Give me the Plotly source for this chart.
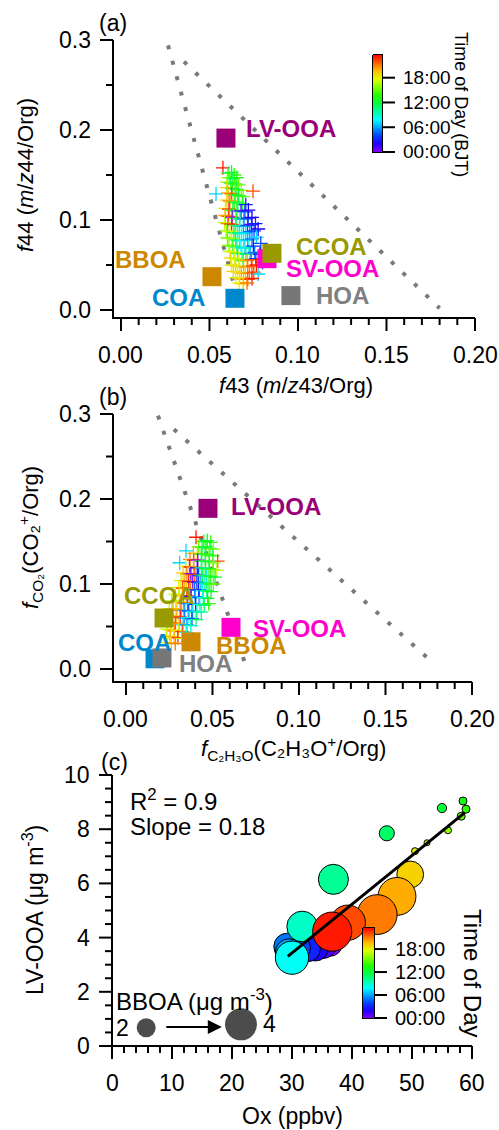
import colorsys
import plotly.graph_objects as go

W, H = 499, 1130
ML = MR = MT = MB = 1
FONT = "Liberation Sans, Arial, sans-serif"

# ---------------- data ----------------
A_F43 = [0.0576, 0.0605, 0.0625, 0.0640, 0.0612, 0.0632, 0.0655,
         0.0600, 0.0620, 0.0645, 0.0665, 0.0598, 0.0630, 0.0655, 0.0680,
         0.0537, 0.0746, 0.0605, 0.0625, 0.0645, 0.0665, 0.0690,
         0.0598, 0.0615, 0.0640, 0.0660, 0.0685, 0.0705,
         0.0590, 0.0610, 0.0632, 0.0655, 0.0678, 0.0700, 0.0720,
         0.0588, 0.0607, 0.0628, 0.0650, 0.0672, 0.0695, 0.0718, 0.0740,
         0.0585, 0.0603, 0.0625, 0.0648, 0.0670, 0.0692, 0.0715, 0.0738, 0.0760,
         0.0595, 0.0615, 0.0638, 0.0660, 0.0682, 0.0705, 0.0728, 0.0752, 0.0775,
         0.0602, 0.0625, 0.0648, 0.0670, 0.0693, 0.0716, 0.0740, 0.0765,
         0.0610, 0.0632, 0.0655, 0.0678, 0.0700, 0.0723, 0.0748, 0.0790,
         0.0615, 0.0638, 0.0660, 0.0683, 0.0706, 0.0730, 0.0755, 0.0785,
         0.0620, 0.0643, 0.0666, 0.0690, 0.0713, 0.0737, 0.0762, 0.0800,
         0.0625, 0.0648, 0.0670, 0.0693, 0.0716, 0.0740, 0.0765,
         0.0635, 0.0658, 0.0680, 0.0703, 0.0726, 0.0750, 0.0775,
         0.0648, 0.0670, 0.0693, 0.0716, 0.0740,
         0.0668, 0.0690, 0.0712]
A_F44 = [0.158, 0.152, 0.153, 0.150, 0.147, 0.146, 0.147,
         0.142, 0.141, 0.140, 0.139, 0.136, 0.135, 0.134, 0.133,
         0.129, 0.132, 0.130, 0.129, 0.128, 0.127, 0.126,
         0.122, 0.121, 0.120, 0.119, 0.118, 0.117,
         0.113, 0.112, 0.111, 0.110, 0.110, 0.109, 0.111,
         0.105, 0.104, 0.103, 0.102, 0.101, 0.101, 0.102, 0.103,
         0.097, 0.096, 0.095, 0.094, 0.093, 0.093, 0.094, 0.095, 0.096,
         0.088, 0.087, 0.086, 0.085, 0.085, 0.086, 0.087, 0.088, 0.090,
         0.080, 0.079, 0.078, 0.077, 0.077, 0.078, 0.079, 0.081,
         0.072, 0.071, 0.070, 0.069, 0.069, 0.070, 0.071, 0.074,
         0.065, 0.064, 0.063, 0.062, 0.062, 0.063, 0.064, 0.062,
         0.058, 0.057, 0.056, 0.055, 0.055, 0.056, 0.057, 0.053,
         0.050, 0.049, 0.048, 0.048, 0.048, 0.049, 0.050,
         0.043, 0.042, 0.041, 0.041, 0.041, 0.042, 0.040,
         0.036, 0.035, 0.034, 0.034, 0.035,
         0.030, 0.029, 0.030]
A_HOUR = [23, 13, 12, 14, 15, 11, 13,
          16, 12, 14, 15, 19, 13, 12, 16,
          7, 22, 20, 22, 13, 12, 15,
          19, 21, 14, 11, 13, 3,
          18, 23, 12, 13, 1, 4, 2,
          20, 22, 0, 12, 10, 5, 3, 2,
          17, 21, 23, 11, 9, 6, 4, 1, 3,
          16, 18, 12, 10, 8, 7, 5, 4, 2,
          15, 17, 11, 9, 8, 6, 5, 7,
          16, 14, 10, 8, 7, 9, 3, 4,
          17, 18, 12, 8, 11, 6, 5, 2,
          19, 17, 18, 13, 20, 22, 4, 3,
          18, 19, 17, 20, 21, 22, 23,
          19, 18, 20, 19, 21, 22, 7,
          18, 19, 20, 22, 23,
          18, 19, 21]

B_FC2H3O = [0.0405, 0.0450, 0.0470, 0.0490,
            0.0347, 0.0420, 0.0440, 0.0462, 0.0485, 0.0505,
            0.0390, 0.0412, 0.0435, 0.0458, 0.0480, 0.0502, 0.0530,
            0.0310, 0.0370, 0.0392, 0.0415, 0.0438, 0.0460, 0.0482, 0.0505,
            0.0345, 0.0367, 0.0390, 0.0412, 0.0435, 0.0458, 0.0480, 0.0503, 0.0525,
            0.0330, 0.0352, 0.0375, 0.0398, 0.0420, 0.0443, 0.0466, 0.0490, 0.0515,
            0.0318, 0.0340, 0.0363, 0.0386, 0.0410, 0.0433, 0.0456, 0.0480, 0.0505,
            0.0305, 0.0328, 0.0350, 0.0373, 0.0397, 0.0420, 0.0443, 0.0467, 0.0492,
            0.0285, 0.0308, 0.0330, 0.0353, 0.0376, 0.0400, 0.0423, 0.0447, 0.0472,
            0.0265, 0.0288, 0.0310, 0.0333, 0.0356, 0.0380, 0.0403, 0.0427, 0.0452, 0.0478,
            0.0250, 0.0272, 0.0295, 0.0318, 0.0340, 0.0363, 0.0386, 0.0410, 0.0435,
            0.0245, 0.0268, 0.0290, 0.0313, 0.0336, 0.0358, 0.0381, 0.0405,
            0.0240, 0.0262, 0.0285, 0.0307, 0.0330, 0.0352, 0.0375,
            0.0235, 0.0257, 0.0280, 0.0302, 0.0325, 0.0348,
            0.0232, 0.0255, 0.0277, 0.0300, 0.0322,
            0.0240, 0.0262, 0.0285]
B_FCO2 = [0.155, 0.150, 0.151, 0.149,
          0.139, 0.144, 0.143, 0.144, 0.142, 0.141,
          0.136, 0.136, 0.135, 0.135, 0.134, 0.133, 0.127,
          0.125, 0.129, 0.128, 0.128, 0.127, 0.127, 0.126, 0.125,
          0.121, 0.120, 0.120, 0.119, 0.119, 0.118, 0.118, 0.117, 0.116,
          0.113, 0.112, 0.112, 0.111, 0.110, 0.110, 0.109, 0.109, 0.108,
          0.104, 0.104, 0.103, 0.102, 0.102, 0.101, 0.101, 0.100, 0.100,
          0.096, 0.095, 0.094, 0.094, 0.093, 0.093, 0.092, 0.092, 0.091,
          0.088, 0.087, 0.086, 0.086, 0.085, 0.085, 0.084, 0.084, 0.083,
          0.080, 0.079, 0.079, 0.078, 0.077, 0.077, 0.076, 0.076, 0.075, 0.077,
          0.071, 0.071, 0.070, 0.069, 0.069, 0.068, 0.068, 0.067, 0.067,
          0.063, 0.062, 0.062, 0.061, 0.060, 0.060, 0.059, 0.058,
          0.055, 0.054, 0.054, 0.053, 0.052, 0.052, 0.051,
          0.047, 0.046, 0.045, 0.045, 0.044, 0.043,
          0.039, 0.038, 0.037, 0.037, 0.036,
          0.031, 0.031, 0.030]
B_HOUR = [23, 13, 12, 14,
          7, 15, 12, 13, 11, 16,
          20, 19, 14, 12, 15, 13, 22,
          7, 21, 22, 0, 12, 14, 11, 16,
          18, 23, 20, 2, 10, 13, 12, 15, 17,
          19, 21, 1, 22, 4, 11, 9, 14, 12,
          17, 20, 23, 0, 3, 6, 10, 12, 15,
          18, 22, 19, 21, 5, 3, 8, 11, 13,
          17, 18, 20, 23, 2, 6, 4, 9, 12,
          16, 19, 18, 21, 5, 7, 3, 8, 11, 14,
          17, 20, 19, 22, 6, 4, 7, 9, 10,
          18, 21, 20, 23, 5, 8, 3, 11,
          19, 18, 22, 20, 7, 6, 9,
          17, 19, 21, 18, 22, 8,
          18, 20, 19, 23, 17,
          18, 19, 21]

SRC_NAMES = ["COA", "HOA", "BBOA", "SV-OOA", "CCOA", "LV-OOA"]
A_SRC_F43 = [0.0644, 0.0960, 0.0514, 0.0825, 0.0853, 0.0593]
A_SRC_F44 = [0.013, 0.016, 0.037, 0.057, 0.063, 0.191]
B_SRC_FC2H3O = [0.0168, 0.0208, 0.0376, 0.0607, 0.0220, 0.0474]
B_SRC_FCO2 = [0.012, 0.013, 0.032, 0.049, 0.060, 0.189]

A_TRI_LEFT_X = [0.0266, 0.0667]
A_TRI_LEFT_Y = [0.294, 0.008]
A_TRI_RIGHT_X = [0.0356, 0.1800]
A_TRI_RIGHT_Y = [0.276, 0.002]
B_TRI_LEFT_X = [0.0185, 0.0700]
B_TRI_LEFT_Y = [0.298, 0.000]
B_TRI_RIGHT_X = [0.0277, 0.1770]
B_TRI_RIGHT_Y = [0.282, 0.008]

C_HOUR = list(range(24))
C_OX = [36.3, 35.2, 33.9, 32.6, 31.0, 29.2, 29.5, 29.8, 30.0, 31.7, 36.9, 45.8,
        55.0, 58.5, 59.0, 58.2, 56.0, 52.5, 50.5, 49.7, 47.5, 44.2, 39.3, 36.7]
C_LVOOA = [3.78, 3.70, 3.62, 3.58, 3.62, 3.67, 3.45, 3.30, 3.26, 4.41, 6.15, 7.85,
           8.78, 9.04, 8.74, 8.48, 7.96, 7.50, 7.19, 6.33, 5.52, 4.85, 4.55, 4.22]
C_BBOA = [3.0, 3.0, 3.1, 3.0, 2.9, 3.2, 3.3, 3.5, 4.2, 3.8, 3.7, 1.4,
          0.5, 0.3, 0.3, 0.3, 0.15, 0.0, 0.15, 3.2, 4.9, 5.2, 4.5, 5.1]
FIT_SLOPE = 0.18
FIT_INTERCEPT = -1.97
FIT_R2 = 0.9
LEGEND_BBOA = [2, 4]
LEGEND_OX = [5.7, 21.5]
LEGEND_Y = [0.67, 0.80]

AB_XTICKS = [0.00, 0.05, 0.10, 0.15, 0.20]
AB_XTICKLABELS = ["0.00", "0.05", "0.10", "0.15", "0.20"]
AB_YTICKS = [0.0, 0.1, 0.2, 0.3]
AB_YTICKLABELS = ["0.0", "0.1", "0.2", "0.3"]
C_XTICKS = [0, 10, 20, 30, 40, 50, 60]
C_YTICKS = [0, 2, 4, 6, 8, 10]
HOUR_TICKS = [0, 6, 12, 18]
HOUR_LABELS = ["00:00", "06:00", "12:00", "18:00"]

# ---------------- styles / geometry ----------------
SRC_COLORS = {"COA": "#0088CC", "HOA": "#777777", "BBOA": "#CC8800",
              "SV-OOA": "#FF00CC", "CCOA": "#999900", "LV-OOA": "#990077"}
LABEL_COLORS = dict(SRC_COLORS, HOA="#808080")

CS = []
for i in range(13):
    f = i / 12
    r, g, b = colorsys.hsv_to_rgb(270 * (1 - f) / 360.0, 1, 1)
    CS.append([f, "rgb(%d,%d,%d)" % (round(r * 255), round(g * 255), round(b * 255))])
CMIN, CMAX = 0, 23.5

PW, PH = W - ML - MR, H - MT - MB


def px(x):
    return (x - ML) / PW


def py(y):
    return 1 - (y - MT) / PH


def bsize(v):
    return 6 + 6.5 * v


PANEL = {
    "a": dict(l=113, r=475, b=318, t=40, xr=[-0.0045, 0.2], yr=[-0.0089, 0.3]),
    "b": dict(l=113, r=472, b=682, t=414, xr=[-0.0075, 0.2], yr=[-0.0153, 0.3]),
    "c": dict(l=112, r=472, b=1046, t=775, xr=[0, 60], yr=[0, 10]),
}
CB_A = dict(left=373, top=55, bottom=152, thick=9, font=19, ticklen=13, gap=7)
CB_C = dict(left=363, top=928, bottom=1018, thick=11, font=20, ticklen=13, gap=7)


def cbar(cb):
    return dict(x=px(cb["left"]), xanchor="left", xpad=0,
                y=py((cb["top"] + cb["bottom"]) / 2), yanchor="middle", ypad=0,
                len=(cb["bottom"] - cb["top"]) / PH, lenmode="fraction",
                thickness=cb["thick"], outlinewidth=0, ticks="", showticklabels=False)


fig = go.Figure()

for tx, ty in ((A_TRI_LEFT_X, A_TRI_LEFT_Y), (A_TRI_RIGHT_X, A_TRI_RIGHT_Y)):
    fig.add_trace(go.Scatter(x=tx, y=ty, mode="lines", xaxis="x", yaxis="y",
                             line=dict(color="#7a7a7a", width=4, dash="4px,12px"),
                             hoverinfo="skip", showlegend=False))
fig.add_trace(go.Scatter(
    x=A_F43, y=A_F44, mode="markers", xaxis="x", yaxis="y", showlegend=False,
    marker=dict(symbol="cross-thin", size=10, color=A_HOUR, colorscale=CS, cmin=CMIN, cmax=CMAX,
                line=dict(width=1.3, color=A_HOUR, colorscale=CS, cmin=CMIN, cmax=CMAX),
                showscale=True, colorbar=cbar(CB_A))))
fig.add_trace(go.Scatter(
    x=A_SRC_F43, y=A_SRC_F44, mode="markers", xaxis="x", yaxis="y", showlegend=False,
    marker=dict(symbol="square", size=19, color=[SRC_COLORS[n] for n in SRC_NAMES],
                line=dict(width=0))))

for tx, ty in ((B_TRI_LEFT_X, B_TRI_LEFT_Y), (B_TRI_RIGHT_X, B_TRI_RIGHT_Y)):
    fig.add_trace(go.Scatter(x=tx, y=ty, mode="lines", xaxis="x2", yaxis="y2",
                             line=dict(color="#7a7a7a", width=4, dash="4px,12px"),
                             hoverinfo="skip", showlegend=False))
fig.add_trace(go.Scatter(
    x=B_FC2H3O, y=B_FCO2, mode="markers", xaxis="x2", yaxis="y2", showlegend=False,
    marker=dict(symbol="cross-thin", size=10, color=B_HOUR, colorscale=CS, cmin=CMIN, cmax=CMAX,
                line=dict(width=1.3, color=B_HOUR, colorscale=CS, cmin=CMIN, cmax=CMAX),
                showscale=False)))
fig.add_trace(go.Scatter(
    x=B_SRC_FC2H3O, y=B_SRC_FCO2, mode="markers", xaxis="x2", yaxis="y2", showlegend=False,
    marker=dict(symbol="square", size=19, color=[SRC_COLORS[n] for n in SRC_NAMES],
                line=dict(width=0))))

fig.add_trace(go.Scatter(
    x=C_OX, y=C_LVOOA, mode="markers", xaxis="x3", yaxis="y3", showlegend=False,
    marker=dict(symbol="circle", size=[bsize(v) for v in C_BBOA], color=C_HOUR,
                colorscale=CS, cmin=CMIN, cmax=CMAX, opacity=1,
                line=dict(width=1, color="black"), showscale=True, colorbar=cbar(CB_C))))
fx = [min(C_OX) + 0.1, max(C_OX) - 0.2]
fig.add_trace(go.Scatter(x=fx, y=[FIT_SLOPE * v + FIT_INTERCEPT for v in fx], mode="lines",
                         xaxis="x3", yaxis="y3", showlegend=False,
                         line=dict(color="black", width=3)))
fig.add_trace(go.Scatter(x=LEGEND_OX, y=LEGEND_Y, mode="markers", xaxis="x3", yaxis="y3",
                         showlegend=False,
                         marker=dict(symbol="circle", size=[bsize(v) for v in LEGEND_BBOA],
                                     color="black", line=dict(width=0))))

# ---- axis frames / ticks drawn as one line trace on a full-page pixel axis
DEC_X, DEC_Y = [], []
ann = []
MAJ, MIN_ = 13, 7


def A(text, x, y, xanchor="center", yanchor="middle", size=21, color="black",
      textangle=0, xref="paper", yref="paper"):
    ann.append(dict(text=text, x=x, y=y, xref=xref, yref=yref, xanchor=xanchor,
                    yanchor=yanchor, showarrow=False, textangle=textangle, borderpad=0,
                    font=dict(size=size, color=color, family=FONT)))


def seg(x0, y0, x1, y1):
    DEC_X.extend([x0, x1, None])
    DEC_Y.extend([y0, y1, None])


def steps(lo, hi, step):
    out, k = [], 0
    while True:
        v = round(k * step, 6)
        if v > hi + 1e-9:
            break
        if v >= lo - 1e-9:
            out.append(v)
        k += 1
    return out


def frame(p, xticks, xlabels, xminor, yticks, ylabels, yminor, size):
    def X(v):
        return p["l"] + (v - p["xr"][0]) / (p["xr"][1] - p["xr"][0]) * (p["r"] - p["l"])

    def Y(v):
        return p["b"] - (v - p["yr"][0]) / (p["yr"][1] - p["yr"][0]) * (p["b"] - p["t"])

    seg(p["l"] - 1, p["b"], p["r"], p["b"])
    seg(p["l"], p["b"] + 1, p["l"], p["t"])
    for v in steps(p["xr"][0], p["xr"][1], xminor):
        ln = MAJ if any(abs(v - t) < 1e-9 for t in xticks) else MIN_
        seg(X(v), p["b"], X(v), p["b"] + ln)
    for v in steps(p["yr"][0], p["yr"][1], yminor):
        ln = MAJ if any(abs(v - t) < 1e-9 for t in yticks) else MIN_
        seg(p["l"], Y(v), p["l"] - ln, Y(v))
    for v, t in zip(xticks, xlabels):
        A(t, px(X(v)), py(p["b"] + 37), size=size)
    for v, t in zip(yticks, ylabels):
        A(t, px(p["l"] - 21), py(Y(v)), xanchor="right", size=size)


frame(PANEL["a"], AB_XTICKS, AB_XTICKLABELS, 0.01, AB_YTICKS, AB_YTICKLABELS, 0.05, 23)
frame(PANEL["b"], AB_XTICKS, AB_XTICKLABELS, 0.01, AB_YTICKS, AB_YTICKLABELS, 0.05, 23)
frame(PANEL["c"], C_XTICKS, [str(v) for v in C_XTICKS], 2,
      C_YTICKS, [str(v) for v in C_YTICKS], 0.5, 23)


def cb_decor(cb):
    x0, x1 = cb["left"], cb["left"] + cb["thick"]
    t, b = cb["top"], cb["bottom"]
    DEC_X.extend([x0, x1, x1, x0, x0, None])
    DEC_Y.extend([t, t, b, b, t, None])
    for v, lab in zip(HOUR_TICKS, HOUR_LABELS):
        yy = b - (v - CMIN) / (CMAX - CMIN) * (b - t)
        seg(x1, yy, x1 + cb["ticklen"], yy)
        A(lab, px(x1 + cb["ticklen"] + cb["gap"]), py(yy), xanchor="left", size=cb["font"])


cb_decor(CB_A)
cb_decor(CB_C)

fig.add_trace(go.Scatter(x=DEC_X, y=DEC_Y, mode="lines", xaxis="x4", yaxis="y4",
                         line=dict(color="black", width=2), connectgaps=False,
                         hoverinfo="skip", showlegend=False, cliponaxis=False))


def hidden_axis(p, which, anchor):
    if which == "x":
        dom, rng = [px(p["l"]), px(p["r"])], p["xr"]
    else:
        dom, rng = [py(p["b"]), py(p["t"])], p["yr"]
    return dict(domain=dom, range=rng, anchor=anchor, visible=False,
                showgrid=False, zeroline=False)


fig.update_layout(
    width=W, height=H, margin=dict(l=ML, r=MR, t=MT, b=MB, pad=0, autoexpand=False),
    paper_bgcolor="white", plot_bgcolor="rgba(0,0,0,0)",
    font=dict(family=FONT, color="black", size=21),
    xaxis=hidden_axis(PANEL["a"], "x", "y"), yaxis=hidden_axis(PANEL["a"], "y", "x"),
    xaxis2=hidden_axis(PANEL["b"], "x", "y2"), yaxis2=hidden_axis(PANEL["b"], "y", "x2"),
    xaxis3=hidden_axis(PANEL["c"], "x", "y3"), yaxis3=hidden_axis(PANEL["c"], "y", "x3"),
    xaxis4=dict(domain=[0, 1], range=[ML, W - MR], anchor="y4", visible=False,
                showgrid=False, zeroline=False),
    yaxis4=dict(domain=[0, 1], range=[H - MB, MT], anchor="x4", visible=False,
                showgrid=False, zeroline=False),
)

A("(a)", px(113), py(23), size=23)
A("(b)", px(113), py(397), size=23)
A("(c)", px(114), py(762), size=23)

A("<i>f</i>43 (<i>m</i>/<i>z</i>43/Org)", px(296), py(385), size=22)
A("<i>f</i>44 (<i>m</i>/<i>z</i>44/Org)", px(25), py(175), size=22, textangle=-90)
A("<i>f</i><sub>C₂H₃O</sub>(C₂H₃O<sup>+</sup>/Org)", px(293), py(748), size=22)
A("<i>f</i><sub>CO₂</sub>(CO₂<sup>+</sup>/Org)", px(30), py(538), size=22, textangle=-90)
A("Ox (ppbv)", px(292), py(1116), size=23)
A("LV-OOA (μg m<sup>-3</sup>)", px(33), py(910), size=23, textangle=-90)

A("Time of Day (BJT)", px(461), py(104), size=18, textangle=90)
A("Time of Day", px(473), py(973), size=24, textangle=90)

A_LABELS = {"LV-OOA": (0.0701, 0.202, "left"), "CCOA": (0.0983, 0.070, "left"),
            "SV-OOA": (0.0927, 0.046, "left"), "BBOA": (0.0373, 0.0556, "right"),
            "COA": (0.0480, 0.0144, "right"), "HOA": (0.1096, 0.0156, "left")}
for n, (x, y, xa) in A_LABELS.items():
    A("<b>%s</b>" % n, x, y, xanchor=xa, size=24, color=LABEL_COLORS[n], xref="x", yref="y")
B_LABELS = {"LV-OOA": (0.0601, 0.191, "left"), "CCOA": (-0.0017, 0.087, "left"),
            "SV-OOA": (0.0728, 0.048, "left"), "BBOA": (0.0514, 0.028, "left"),
            "COA": (-0.0052, 0.031, "left"), "HOA": (0.0300, 0.007, "left")}
for n, (x, y, xa) in B_LABELS.items():
    A("<b>%s</b>" % n, x, y, xanchor=xa, size=24, color=LABEL_COLORS[n], xref="x2", yref="y2")

A("R<sup>2</sup> = %.1f" % FIT_R2, px(129), py(800), xanchor="left", size=24)
A("Slope = %.2f" % FIT_SLOPE, px(129), py(826), xanchor="left", size=24)
A("BBOA (μg m<sup>-3</sup>)", px(115), py(1000), xanchor="left", size=24)
A("%d" % LEGEND_BBOA[0], 3.0, LEGEND_Y[0], xanchor="right", size=23, xref="x3", yref="y3")
A("%d" % LEGEND_BBOA[1], 25.0, LEGEND_Y[1], xanchor="left", size=23, xref="x3", yref="y3")

ann.append(dict(x=18.3, y=0.70, ax=8.8, ay=0.70, xref="x3", yref="y3", axref="x3", ayref="y3",
                showarrow=True, arrowhead=2, arrowsize=1.4, arrowwidth=2, arrowcolor="black",
                text=""))

fig.update_layout(annotations=ann)
fig.write_html("out.html")
